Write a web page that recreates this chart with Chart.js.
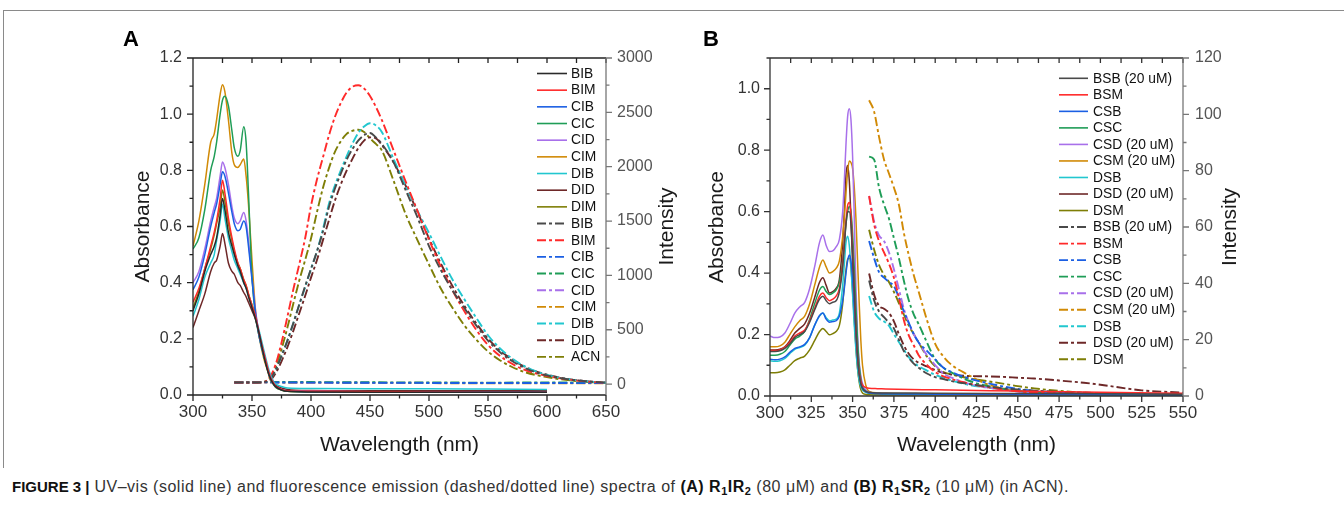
<!DOCTYPE html>
<html><head><meta charset="utf-8">
<script src="https://cdn.jsdelivr.net/npm/chart.js@4.4.0/dist/chart.umd.min.js"></script>
<style>
body{margin:0;background:#fff;width:1344px;height:519px;overflow:hidden;position:relative;font-family:"Liberation Sans",Arial,sans-serif;}
#frame{position:absolute;left:3px;top:10px;width:1345px;height:457px;border-top:1px solid #8a8a8a;border-left:1px solid #8a8a8a;}
#cA{position:absolute;left:0;top:0;}
#cB{position:absolute;left:690px;top:0;}
#cap{position:absolute;left:12px;top:477px;font-size:16px;line-height:20px;color:#333;white-space:nowrap;letter-spacing:0.5px;}
#cap b{color:#111;}
#cap b.fig{font-size:15px;letter-spacing:0;}
#cap sub{font-size:11px;vertical-align:-3px;line-height:0;}
</style></head>
<body>
<div id="frame"></div>
<canvas id="cA" width="690" height="470"></canvas>
<canvas id="cB" width="654" height="470"></canvas>
<div id="cap"><b class="fig">FIGURE 3 |</b> UV–vis (solid line) and fluorescence emission (dashed/dotted line) spectra of <b>(A) R<sub>1</sub>IR<sub>2</sub></b> (80 μM) and <b>(B) R<sub>1</sub>SR<sub>2</sub></b> (10 μM) (in ACN).</div>
<script>
// ---------------- Panel A data ----------------
const wlA_abs = [300,305,310,315,318,320,323,325,327,330,333,335,338,340,343,345,347,350,353,356,360,363,365,368,370,375,380,400,450,500,550,600];
const A_BIB = [0.30,0.36,0.44,0.50,0.53,0.56,0.64,0.70,0.66,0.58,0.53,0.50,0.46,0.44,0.40,0.38,0.35,0.31,0.27,0.22,0.14,0.09,0.065,0.04,0.03,0.018,0.013,0.011,0.01,0.01,0.01,0.01];
const A_BIM = [0.33,0.38,0.45,0.53,0.58,0.62,0.70,0.765,0.72,0.63,0.56,0.52,0.47,0.45,0.41,0.39,0.36,0.32,0.28,0.22,0.15,0.10,0.07,0.045,0.032,0.02,0.015,0.013,0.012,0.011,0.01,0.01];
const A_CIB = [0.375,0.42,0.50,0.60,0.65,0.68,0.75,0.795,0.78,0.72,0.65,0.61,0.585,0.59,0.62,0.60,0.53,0.41,0.29,0.21,0.14,0.095,0.065,0.042,0.03,0.019,0.014,0.012,0.012,0.011,0.011,0.01];
const A_CIC = [0.52,0.56,0.66,0.80,0.85,0.90,1.00,1.05,1.064,1.03,0.94,0.88,0.85,0.87,0.955,0.90,0.72,0.42,0.28,0.21,0.14,0.095,0.065,0.04,0.028,0.018,0.013,0.011,0.01,0.01,0.01,0.01];
const A_CID = [0.40,0.44,0.52,0.62,0.67,0.70,0.78,0.83,0.81,0.75,0.67,0.63,0.61,0.62,0.65,0.62,0.55,0.42,0.30,0.22,0.15,0.10,0.07,0.045,0.03,0.02,0.015,0.013,0.012,0.012,0.011,0.011];
const A_CIM = [0.53,0.62,0.75,0.90,0.93,0.98,1.07,1.105,1.08,0.98,0.86,0.82,0.81,0.82,0.84,0.78,0.68,0.48,0.30,0.21,0.13,0.09,0.06,0.04,0.028,0.018,0.013,0.011,0.01,0.01,0.01,0.01];
const A_DIB = [0.28,0.34,0.42,0.47,0.50,0.55,0.62,0.68,0.63,0.56,0.51,0.48,0.45,0.43,0.40,0.38,0.355,0.32,0.28,0.23,0.16,0.11,0.08,0.05,0.04,0.03,0.025,0.023,0.022,0.022,0.021,0.02];
const A_DID = [0.24,0.30,0.36,0.44,0.47,0.48,0.53,0.575,0.54,0.47,0.44,0.43,0.40,0.39,0.365,0.35,0.33,0.30,0.27,0.22,0.14,0.095,0.07,0.045,0.035,0.025,0.02,0.016,0.015,0.015,0.015,0.015];
const A_DIM = [0.31,0.37,0.45,0.52,0.57,0.61,0.67,0.73,0.69,0.61,0.55,0.51,0.47,0.45,0.41,0.39,0.36,0.32,0.28,0.22,0.15,0.10,0.07,0.045,0.03,0.02,0.015,0.012,0.011,0.011,0.01,0.01];

const wlA_em = [335,345,355,360,365,370,375,380,385,390,395,400,405,410,415,420,425,430,435,440,445,450,455,460,470,480,490,500,510,520,530,540,550,560,570,580,590,600,610,620,630,640,650];
const AE_BIB = [15,15,15,20,40,130,260,400,560,730,900,1060,1220,1400,1620,1790,1930,2060,2160,2240,2290,2310,2270,2210,2040,1790,1540,1270,1050,860,700,540,400,295,215,155,110,80,58,42,30,21,14];
const AE_BIM = [15,15,15,20,60,180,380,620,870,1100,1340,1640,1880,2080,2280,2450,2580,2680,2735,2750,2720,2650,2550,2430,2150,1870,1600,1330,1080,860,670,500,360,260,190,135,100,75,55,40,28,19,12];
const AE_DIB = [15,15,15,20,40,130,260,400,560,730,890,1060,1220,1420,1650,1820,1960,2090,2210,2310,2370,2400,2380,2320,2070,1830,1600,1390,1170,960,780,610,450,330,240,170,120,85,60,42,29,20,13];
const AE_DID = [15,15,15,18,30,100,210,340,490,650,810,980,1140,1320,1500,1680,1830,1960,2070,2170,2240,2270,2260,2200,2040,1830,1590,1340,1110,900,720,560,420,310,230,165,120,88,62,44,31,21,14];
const AE_ACN = [15,15,15,20,50,150,320,520,740,950,1140,1340,1580,1800,1980,2130,2230,2300,2330,2340,2320,2260,2210,2150,1870,1570,1330,1100,880,700,540,410,300,220,160,115,85,65,47,34,24,16,10];
const wlA_flat = [335,360,400,450,500,550,600,650];
const AE_CIB = [14,16,14,12,11,10,10,9];
const AE_CIC = [18,20,19,17,15,14,15,13];
const AE_CID = [15,17,15,13,12,11,11,10];
const AE_CIM = [12,14,12,10,9,8,8,7];

const xTicksA = [300,350,400,450,500,550,600,650];
const yTicksA = [0,0.2,0.4,0.6,0.8,1.0,1.2];
const y2TicksA = [0,500,1000,1500,2000,2500,3000];

// ---------------- Panel B data ----------------
const wlB_abs = [300,303,306,309,312,315,318,321,324,327,330,332,334,336,338,340,342,344,345,346,347,348,349,350,351,352,353,354,355,356,358,360,365,370,400,450,500,550];
const B_BSB = [0.145,0.145,0.147,0.155,0.17,0.19,0.2,0.21,0.24,0.28,0.315,0.325,0.31,0.30,0.305,0.31,0.34,0.42,0.49,0.56,0.60,0.60,0.56,0.46,0.34,0.22,0.13,0.07,0.04,0.025,0.015,0.012,0.01,0.01,0.009,0.008,0.007,0.006];
const B_BSM = [0.148,0.148,0.15,0.158,0.175,0.195,0.205,0.215,0.245,0.285,0.325,0.335,0.32,0.31,0.315,0.325,0.35,0.43,0.50,0.57,0.62,0.63,0.59,0.48,0.35,0.22,0.13,0.075,0.048,0.035,0.028,0.025,0.024,0.023,0.02,0.016,0.012,0.009];
const B_CSB = [0.12,0.118,0.12,0.127,0.142,0.155,0.16,0.168,0.19,0.23,0.262,0.27,0.25,0.24,0.242,0.245,0.26,0.31,0.35,0.40,0.44,0.459,0.44,0.38,0.29,0.20,0.12,0.07,0.04,0.025,0.014,0.01,0.008,0.007,0.006,0.005,0.004,0.003];
const B_CSC = [0.133,0.133,0.136,0.145,0.165,0.185,0.195,0.21,0.25,0.30,0.345,0.356,0.34,0.33,0.335,0.345,0.37,0.44,0.50,0.56,0.60,0.617,0.60,0.53,0.42,0.29,0.18,0.10,0.055,0.03,0.015,0.01,0.008,0.007,0.006,0.005,0.004,0.003];
const B_CSD = [0.195,0.19,0.192,0.205,0.235,0.27,0.29,0.305,0.35,0.42,0.50,0.524,0.49,0.47,0.472,0.485,0.51,0.60,0.70,0.82,0.91,0.935,0.90,0.78,0.58,0.36,0.20,0.11,0.065,0.04,0.02,0.012,0.009,0.008,0.006,0.005,0.004,0.003];
const B_CSM = [0.16,0.16,0.163,0.175,0.2,0.225,0.245,0.26,0.30,0.36,0.42,0.443,0.42,0.40,0.405,0.415,0.44,0.52,0.58,0.66,0.73,0.765,0.76,0.74,0.68,0.58,0.44,0.30,0.18,0.10,0.035,0.015,0.01,0.009,0.007,0.006,0.005,0.004];
const B_DSB = [0.115,0.113,0.115,0.122,0.138,0.152,0.158,0.165,0.19,0.23,0.26,0.27,0.255,0.245,0.247,0.25,0.27,0.36,0.43,0.50,0.52,0.49,0.42,0.33,0.23,0.15,0.09,0.05,0.03,0.02,0.012,0.01,0.009,0.008,0.007,0.006,0.005,0.004];
const B_DSD = [0.15,0.15,0.152,0.16,0.18,0.205,0.22,0.235,0.27,0.32,0.37,0.385,0.36,0.335,0.34,0.35,0.38,0.50,0.60,0.72,0.75,0.70,0.58,0.43,0.30,0.19,0.11,0.06,0.035,0.022,0.013,0.01,0.008,0.007,0.006,0.005,0.004,0.003];
const B_DSM = [0.076,0.076,0.078,0.085,0.1,0.115,0.123,0.13,0.15,0.18,0.21,0.22,0.21,0.199,0.203,0.21,0.23,0.30,0.36,0.41,0.445,0.449,0.42,0.34,0.25,0.16,0.09,0.045,0.02,0.01,0.005,0.004,0.003,0.003,0.003,0.003,0.003,0.003];

const wlB_em = [360,363,366,369,372,375,378,381,384,387,390,395,400,405,410,420,430,440,450,460,475,490,500,525,550];
const BE_BSB = [41,34,30,28,26,24,20,16,13.5,11.5,10,8,6.7,6,5.3,4.3,3.5,2.8,2.3,1.9,1.5,1.2,1.0,0.7,0.5];
const BE_BSM = [71,61,55,51,47,42,35,27,21.5,18,14.5,11,8.5,7,6,4.5,3.3,2.4,1.7,1.2,0.9,0.7,0.6,0.5,0.4];
const BE_CSB = [55,49,44,42,40.5,39,35,30,26,22,19,16,13,10,8.5,6.3,4.8,3.5,2.5,1.8,1.2,0.9,0.8,0.6,0.5];
const BE_CSC = [85,84,74,68,63,56,49,41,34,29,25.5,19,13,10,8.3,5.5,3.8,2.6,1.8,1.3,1.0,0.8,0.7,0.6,0.5];
const BE_CSD = [71,62,57,55,51,45,38,31,26,22,19,14.5,11,8,6.5,4.4,3.2,2.3,1.6,1.2,0.9,0.7,0.6,0.5,0.4];
const BE_CSM = [105,101,92,84,79,74,68,58,50,43,37,27,18.5,14,11,7.5,4.5,2.8,1.8,1.3,1.0,0.8,0.7,0.6,0.5];
const BE_DSB = [35.5,30,27.5,26.5,25,22,19.2,16.5,13.8,11.8,10.6,9,7.5,6.5,5.5,4,3.1,2.4,1.9,1.5,1.1,0.9,0.8,0.6,0.5];
const BE_DSD = [43.5,36,32,31,29.5,26.5,22,18,15,13,11.8,10.5,9.2,8.2,7.6,7.1,7.0,6.8,6.5,6.2,5.5,4.7,4.0,2.0,1.2];
const BE_DSM = [59,52,46.5,43,40.5,37,33,29,25,22,19,14,10.5,8.5,7.6,6.3,5.4,4.5,3.5,2.7,1.8,1.2,1.0,0.7,0.5];

const xTicksB = [300,325,350,375,400,425,450,475,500,525,550];
const yTicksB = [0,0.2,0.4,0.6,0.8,1.0];
const y2TicksB = [0,20,40,60,80,100,120];

// ---------------- styling ----------------
const C = {black:'#2a2a2a', gray:'#4a4a4a', red:'#ff2a2a', blue:'#1b5fe3', green:'#1f9d57', purple:'#a870ea',
  orange:'#d18a06', cyan:'#22c7cf', brown:'#6e2828', olive:'#7e7e06'};
const DASH = [9,3,3,3];
const FONT = "'Liberation Sans', Arial, sans-serif";
Chart.defaults.font.family = FONT;
Chart.defaults.animation = false;

function pts(xs, ys){ return xs.map((x,i)=>({x:x, y:ys[i]})); }
function ds(label, xs, ys, color, axis, dashed){
  return {label:label, data:pts(xs,ys), borderColor:color, backgroundColor:color, yAxisID:axis,
    borderWidth: dashed?1.9:1.5, borderDash: dashed?DASH:[], pointRadius:0, fill:false,
    cubicInterpolationMode:'monotone', _dashed:dashed};
}
function midpoints(a){ const r=[]; for(let i=0;i<a.length-1;i++) r.push((a[i]+a[i+1])/2); return r; }

const deco = {
  id:'deco',
  afterDatasetsDraw(chart, args, o){
    const ctx = chart.ctx, ca = chart.chartArea;
    const sx = chart.scales.x, sy = chart.scales.y, sr = chart.scales.y2;
    ctx.save();
    ctx.lineCap = 'butt';
    ctx.lineWidth = 1.3;
    ctx.strokeStyle = o.axisColor;
    ctx.beginPath();
    ctx.moveTo(ca.left, ca.top); ctx.lineTo(ca.right, ca.top);
    ctx.moveTo(ca.left, ca.top); ctx.lineTo(ca.left, ca.bottom); ctx.lineTo(ca.right, ca.bottom);
    o.xTicks.forEach(v=>{ const p=sx.getPixelForValue(v); ctx.moveTo(p,ca.bottom); ctx.lineTo(p,ca.bottom+6); ctx.moveTo(p,ca.top); ctx.lineTo(p,ca.top+5); });
    o.xMinor.forEach(v=>{ const p=sx.getPixelForValue(v); ctx.moveTo(p,ca.bottom); ctx.lineTo(p,ca.bottom+3.5); ctx.moveTo(p,ca.top); ctx.lineTo(p,ca.top+5); });
    o.yTicks.forEach(v=>{ const p=sy.getPixelForValue(v); ctx.moveTo(ca.left,p); ctx.lineTo(ca.left-6,p); });
    o.yMinor.forEach(v=>{ const p=sy.getPixelForValue(v); ctx.moveTo(ca.left,p); ctx.lineTo(ca.left-3.5,p); });
    ctx.stroke();
    ctx.strokeStyle = o.rightColor;
    ctx.beginPath();
    ctx.moveTo(ca.right, ca.top); ctx.lineTo(ca.right, ca.bottom);
    o.y2Ticks.forEach(v=>{ const p=sr.getPixelForValue(v); ctx.moveTo(ca.right,p); ctx.lineTo(ca.right+6,p); });
    o.y2Minor.forEach(v=>{ const p=sr.getPixelForValue(v); ctx.moveTo(ca.right,p); ctx.lineTo(ca.right+3.5,p); });
    ctx.stroke();

    // titles
    ctx.fillStyle = '#1a1a1a';
    ctx.font = '21px ' + FONT;
    ctx.textAlign = 'center'; ctx.textBaseline = 'middle';
    ctx.fillText('Wavelength (nm)', (ca.left+ca.right)/2, o.xTitleY);
    const cy = (ca.top+ca.bottom)/2;
    ctx.save(); ctx.translate(o.yTitleX, cy); ctx.rotate(-Math.PI/2); ctx.fillText('Absorbance', 0, 0); ctx.restore();
    ctx.save(); ctx.translate(o.y2TitleX, cy); ctx.rotate(-Math.PI/2); ctx.fillText('Intensity', 0, 0); ctx.restore();
    ctx.font = 'bold 22px ' + FONT;
    ctx.fillStyle = '#000';
    ctx.fillText(o.panel, o.panelX, o.panelY);

    // legend
    ctx.font = '13.8px ' + FONT;
    ctx.textAlign = 'left';
    chart.data.datasets.forEach((d,i)=>{
      const y = o.legY + i*o.legDY;
      ctx.strokeStyle = d.borderColor;
      ctx.lineWidth = d._dashed ? 1.9 : 1.6;
      ctx.setLineDash(d._dashed ? DASH : []);
      ctx.beginPath(); ctx.moveTo(o.legX1, y); ctx.lineTo(o.legX2, y); ctx.stroke();
      ctx.setLineDash([]);
      ctx.fillStyle = '#111';
      ctx.fillText(d.label, o.legTX, y+0.5);
    });
    ctx.restore();
  }
};

function scalesCfg(p){
  const common = {grid:{display:false, drawTicks:false}, border:{display:false}};
  return {
    x: Object.assign({type:'linear', position:'bottom', min:p.xMin, max:p.xMax,
      afterBuildTicks: s=>{ s.ticks = p.xTicks.map(v=>({value:v})); },
      ticks:{font:{size:17}, color:'#333', padding:p.xPad, maxRotation:0, autoSkip:false},
      afterFit: s=>{ s.height = p.xH; }}, common),
    y: Object.assign({type:'linear', position:'left', min:p.yMin, max:p.yMax,
      afterBuildTicks: s=>{ s.ticks = p.yTicks.map(v=>({value:v})); },
      ticks:{font:{size:16}, color:'#333', padding:p.yPad, callback:v=>Number(v).toFixed(1)},
      afterFit: s=>{ s.width = p.yW; }}, common),
    y2: Object.assign({type:'linear', position:'right', min:p.y2Min, max:p.y2Max,
      afterBuildTicks: s=>{ s.ticks = p.y2Ticks.map(v=>({value:v})); },
      ticks:{font:{size:16}, color:'#555', padding:p.y2Pad, callback:v=>String(v)},
      afterFit: s=>{ s.width = p.y2W; }}, common)
  };
}

// ---------------- Chart A ----------------
const dsA = [
  ds('BIB', wlA_abs, A_BIB, C.black, 'y', false),
  ds('BIM', wlA_abs, A_BIM, C.red, 'y', false),
  ds('CIB', wlA_abs, A_CIB, C.blue, 'y', false),
  ds('CIC', wlA_abs, A_CIC, C.green, 'y', false),
  ds('CID', wlA_abs, A_CID, C.purple, 'y', false),
  ds('CIM', wlA_abs, A_CIM, C.orange, 'y', false),
  ds('DIB', wlA_abs, A_DIB, C.cyan, 'y', false),
  ds('DID', wlA_abs, A_DID, C.brown, 'y', false),
  ds('DIM', wlA_abs, A_DIM, C.olive, 'y', false),
  ds('BIB', wlA_em, AE_BIB, C.gray, 'y2', true),
  ds('BIM', wlA_em, AE_BIM, C.red, 'y2', true),
  ds('CIB', wlA_flat, AE_CIB, C.blue, 'y2', true),
  ds('CIC', wlA_flat, AE_CIC, C.green, 'y2', true),
  ds('CID', wlA_flat, AE_CID, C.purple, 'y2', true),
  ds('CIM', wlA_flat, AE_CIM, C.orange, 'y2', true),
  ds('DIB', wlA_em, AE_DIB, C.cyan, 'y2', true),
  ds('DID', wlA_em, AE_DID, C.brown, 'y2', true),
  ds('ACN', wlA_em, AE_ACN, C.olive, 'y2', true)
];
new Chart(document.getElementById('cA'), {
  type:'line',
  data:{datasets:dsA},
  options:{
    responsive:false, devicePixelRatio:1, animation:false,
    layout:{padding:{top:58, left:0, right:0, bottom:0}},
    plugins:{legend:{display:false}, tooltip:{enabled:false},
      deco:{axisColor:'#222', rightColor:'#777', xTicks:xTicksA, xMinor:midpoints(xTicksA),
        yTicks:yTicksA, yMinor:midpoints(yTicksA), y2Ticks:y2TicksA, y2Minor:midpoints(y2TicksA),
        xTitleY:445, yTitleX:143, y2TitleX:667, panel:'A', panelX:131, panelY:40,
        legY:73.5, legDY:16.67, legX1:537, legX2:567, legTX:571}},
    scales: scalesCfg({xMin:300, xMax:650, xTicks:xTicksA, xPad:7, xH:75,
      yMin:0, yMax:1.2, yTicks:yTicksA, yPad:11, yW:193,
      y2Min:-100, y2Max:3000, y2Ticks:y2TicksA, y2Pad:11, y2W:84})
  },
  plugins:[deco]
});

// ---------------- Chart B ----------------
const dsB = [
  ds('BSB (20 uM)', wlB_abs, B_BSB, C.gray, 'y', false),
  ds('BSM', wlB_abs, B_BSM, C.red, 'y', false),
  ds('CSB', wlB_abs, B_CSB, C.blue, 'y', false),
  ds('CSC', wlB_abs, B_CSC, C.green, 'y', false),
  ds('CSD (20 uM)', wlB_abs, B_CSD, C.purple, 'y', false),
  ds('CSM (20 uM)', wlB_abs, B_CSM, C.orange, 'y', false),
  ds('DSB', wlB_abs, B_DSB, C.cyan, 'y', false),
  ds('DSD (20 uM)', wlB_abs, B_DSD, C.brown, 'y', false),
  ds('DSM', wlB_abs, B_DSM, C.olive, 'y', false),
  ds('BSB (20 uM)', wlB_em, BE_BSB, C.gray, 'y2', true),
  ds('BSM', wlB_em, BE_BSM, C.red, 'y2', true),
  ds('CSB', wlB_em, BE_CSB, C.blue, 'y2', true),
  ds('CSC', wlB_em, BE_CSC, C.green, 'y2', true),
  ds('CSD (20 uM)', wlB_em, BE_CSD, C.purple, 'y2', true),
  ds('CSM (20 uM)', wlB_em, BE_CSM, C.orange, 'y2', true),
  ds('DSB', wlB_em, BE_DSB, C.cyan, 'y2', true),
  ds('DSD (20 uM)', wlB_em, BE_DSD, C.brown, 'y2', true),
  ds('DSM', wlB_em, BE_DSM, C.olive, 'y2', true)
];
new Chart(document.getElementById('cB'), {
  type:'line',
  data:{datasets:dsB},
  options:{
    responsive:false, devicePixelRatio:1, animation:false,
    layout:{padding:{top:58, left:0, right:0, bottom:0}},
    plugins:{legend:{display:false}, tooltip:{enabled:false},
      deco:{axisColor:'#333', rightColor:'#777', xTicks:xTicksB, xMinor:midpoints(xTicksB),
        yTicks:yTicksB, yMinor:midpoints(yTicksB).concat([1.1]), y2Ticks:y2TicksB, y2Minor:midpoints(y2TicksB),
        xTitleY:445, yTitleX:27, y2TitleX:540, panel:'B', panelX:21, panelY:40,
        legY:78.3, legDY:16.53, legX1:369, legX2:398, legTX:403}},
    scales: scalesCfg({xMin:300, xMax:550, xTicks:xTicksB, xPad:7, xH:74,
      yMin:0, yMax:1.1, yTicks:yTicksB, yPad:10, yW:80,
      y2Min:0, y2Max:120, y2Ticks:y2TicksB, y2Pad:12, y2W:161})
  },
  plugins:[deco]
});
</script>
</body></html>
